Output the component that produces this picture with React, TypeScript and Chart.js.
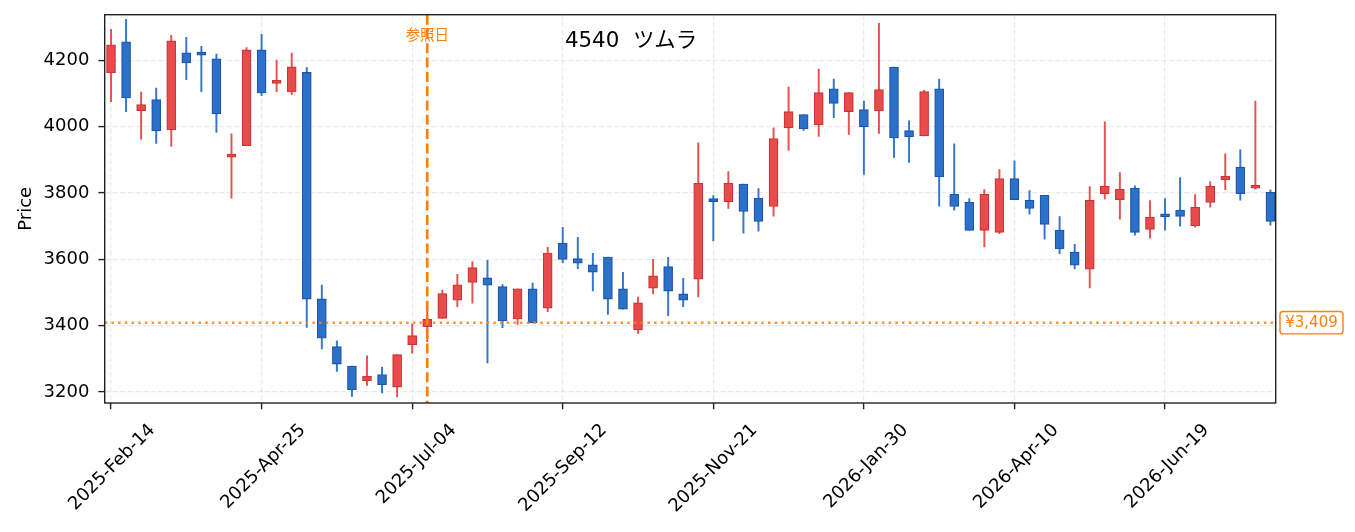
import { useEffect, useRef } from "react";
import { Chart, registerables } from "chart.js";

Chart.register(...registerables);

// weekly candles, week 0 = 2025-02-14
const tickWeeks = [0, 10, 20, 30, 40, 50, 60, 70];
const tickLabels = ["2025-Feb-14", "2025-Apr-25", "2025-Jul-04", "2025-Sep-12", "2025-Nov-21", "2026-Jan-30", "2026-Apr-10", "2026-Jun-19"];
const priceTicks = [3200, 3400, 3600, 3800, 4000, 4200];

const openPrices = [
  4162, 4255, 4048, 4081, 3990, 4222, 4219, 4204, 3908, 3942,
  4231, 4130, 4104, 4163, 3481, 3337, 3278, 3234, 3253, 3215,
  3342, 3397, 3422, 3477, 3530, 3544, 3518, 3420, 3511, 3453,
  3649, 3602, 3583, 3607, 3511, 3387, 3513, 3578, 3496, 3540,
  3778, 3773, 3827, 3784, 3759, 3996, 4036, 4005, 4114, 4045,
  4051, 4047, 4179, 3988, 3972, 4114, 3796, 3772, 3687, 3681,
  3843, 3778, 3793, 3688, 3622, 3570, 3798, 3780, 3814, 3690,
  3732, 3748, 3701, 3771, 3840, 3878, 3814, 3802,
];
const highPrices = [
  4293, 4323, 4104, 4116, 4275, 4269, 4242, 4218, 3978, 4238,
  4278, 4200, 4221, 4178, 3522, 3354, 3278, 3309, 3275, 3313,
  3405, 3452, 3507, 3555, 3593, 3597, 3524, 3511, 3528, 3636,
  3696, 3666, 3618, 3607, 3561, 3486, 3600, 3606, 3543, 3951,
  3792, 3864, 3827, 3813, 3996, 4119, 4036, 4173, 4143, 4102,
  4077, 4311, 4179, 4017, 4109, 4143, 3948, 3783, 3810, 3870,
  3897, 3807, 3793, 3729, 3645, 3819, 4014, 3861, 3821, 3777,
  3783, 3846, 3795, 3834, 3918, 3930, 4077, 3809,
];
const lowPrices = [
  4075, 4045, 3961, 3949, 3940, 4141, 4105, 3982, 3784, 3942,
  4093, 4105, 4096, 3395, 3330, 3262, 3187, 3220, 3197, 3185,
  3317, 3352, 3422, 3457, 3468, 3288, 3394, 3404, 3408, 3442,
  3590, 3572, 3505, 3434, 3450, 3377, 3496, 3430, 3457, 3487,
  3655, 3753, 3679, 3685, 3730, 3928, 3988, 3970, 4027, 3976,
  3856, 3979, 3907, 3892, 3972, 3760, 3748, 3687, 3637, 3677,
  3780, 3736, 3661, 3617, 3571, 3514, 3781, 3721, 3673, 3664,
  3688, 3700, 3697, 3757, 3810, 3778, 3811, 3703,
];
const closePrices = [
  4246, 4086, 4066, 3987, 4258, 4192, 4215, 4038, 3912, 4231,
  4101, 4134, 4180, 3480, 3362, 3284, 3207, 3247, 3222, 3313,
  3370, 3419, 3497, 3523, 3575, 3522, 3414, 3511, 3408, 3619,
  3600, 3588, 3561, 3480, 3450, 3469, 3550, 3504, 3477, 3829,
  3774, 3829, 3744, 3714, 3964, 4045, 3993, 4102, 4070, 4102,
  3999, 4111, 3966, 3969, 4105, 3849, 3759, 3687, 3796, 3843,
  3780, 3753, 3705, 3631, 3582, 3778, 3820, 3811, 3681, 3727,
  3728, 3729, 3757, 3820, 3850, 3798, 3818, 3714,
];

const refWeek = 21;
const refPrice = 3409;
const refDateLabel = "参照日";
const refPriceLabel = "¥3,409";
const chartTitle = "4540  ツムラ";

const ORANGE = "#ff7f0e";
const FONT = '"DejaVu Sans", "Noto Sans CJK JP", sans-serif';

const overlayPlugin = {
  id: "overlay",
  afterDatasetsDraw(chart: any) {
    const { ctx, chartArea: a, scales } = chart;
    const x = scales.x.getPixelForValue(refWeek);
    const y = scales.y.getPixelForValue(refPrice);
    ctx.save();
    ctx.strokeStyle = "rgba(255,127,14,0.85)";
    ctx.lineWidth = 2.5;
    ctx.setLineDash([2.5, 4.2]);
    ctx.beginPath();
    ctx.moveTo(a.left, y);
    ctx.lineTo(a.right, y);
    ctx.stroke();

    ctx.strokeStyle = ORANGE;
    ctx.lineWidth = 2.7;
    ctx.setLineDash([10, 4.3]);
    ctx.beginPath();
    ctx.moveTo(x, a.top);
    ctx.lineTo(x, a.bottom);
    ctx.stroke();
    ctx.restore();
  },
  afterDraw(chart: any) {
    const { ctx, chartArea: a, scales } = chart;
    const x = scales.x.getPixelForValue(refWeek);
    const y = scales.y.getPixelForValue(refPrice);
    ctx.save();
    // frame
    ctx.strokeStyle = "#222";
    ctx.lineWidth = 1.4;
    ctx.setLineDash([]);
    ctx.strokeRect(a.left, a.top, a.right - a.left, a.bottom - a.top);

    // title
    ctx.fillStyle = "#000";
    ctx.font = `21.4px ${FONT}`;
    ctx.textAlign = "left";
    ctx.textBaseline = "alphabetic";
    ctx.fillText(chartTitle, a.left + 0.393 * (a.right - a.left), a.top + 32.6);

    // reference date label
    ctx.fillStyle = ORANGE;
    ctx.font = '14.4px "Noto Sans CJK JP", sans-serif';
    ctx.textAlign = "center";
    ctx.textBaseline = "middle";
    ctx.fillText(refDateLabel, x, a.top + 20.3);

    // reference price box
    ctx.font = `15px ${FONT}`;
    const w = ctx.measureText(refPriceLabel).width + 10.5;
    const h = 22.4;
    const bx = a.right + 4.3;
    ctx.beginPath();
    ctx.roundRect(bx, y - h / 2, w, h, 3);
    ctx.fillStyle = "#fff";
    ctx.fill();
    ctx.strokeStyle = ORANGE;
    ctx.lineWidth = 1.4;
    ctx.stroke();
    ctx.fillStyle = ORANGE;
    ctx.fillText(refPriceLabel, bx + w / 2, y + 0.5);
    ctx.restore();
  },
};

const CandleChart = () => {
  const chartRef = useRef<HTMLCanvasElement>(null);
  const chartInstance = useRef<Chart | null>(null);

  useEffect(() => {
    if (!chartRef.current) return;
    if (chartInstance.current) chartInstance.current.destroy();
    const ctx = chartRef.current.getContext("2d");
    if (!ctx) return;

    const up = closePrices.map((c, i) => c >= openPrices[i]);
    const bodyFill = up.map((u) => (u ? "#e84b4b" : "#2b70c9"));
    const bodyEdge = up.map((u) => (u ? "#cc3434" : "#1f55a8"));
    const wickColor = up.map((u) => (u ? "#e65252" : "#3377cc"));

    const gridColor = "rgba(0,0,0,0.08)";

    chartInstance.current = new Chart(ctx, {
      type: "bar",
      data: {
        datasets: [
          {
            label: "body",
            data: openPrices.map((o, i) => ({ x: i, y: [o, closePrices[i]] })) as any,
            backgroundColor: bodyFill,
            borderColor: bodyEdge,
            borderWidth: 1.2,
            borderSkipped: false,
            barThickness: 9,
            minBarLength: 3,
            grouped: false,
            order: 0,
          },
          {
            label: "wick",
            data: lowPrices.map((l, i) => ({ x: i, y: [l, highPrices[i]] })) as any,
            backgroundColor: wickColor,
            borderWidth: 0,
            barThickness: 1.3,
            grouped: false,
            order: 1,
          },
        ],
      },
      options: {
        animation: false,
        responsive: true,
        maintainAspectRatio: false,
        layout: { padding: { top: 14.7, right: 79.3, left: 0, bottom: 0 } },
        font: { family: FONT },
        plugins: { legend: { display: false }, tooltip: { enabled: false } },
        scales: {
          x: {
            type: "linear",
            min: -0.42,
            max: 77.35,
            bounds: "data",
            offset: false,
            afterBuildTicks: (s: any) => {
              s.ticks = tickWeeks.map((v) => ({ value: v }));
            },
            afterFit: (s: any) => {
              s.height = 129;
              s.paddingLeft = 0;
              s.paddingRight = 0;
            },
            ticks: {
              autoSkip: false,
              minRotation: 45,
              maxRotation: 45,
              labelOffset: 41.3,
              padding: 10.3,
              color: "#000",
              font: { family: FONT, size: 18 },
              callback: (_v: any, i: number) => tickLabels[i],
            },
            grid: {
              offset: false,
              color: gridColor,
              lineWidth: 1.2,
              tickColor: "#222",
              tickWidth: 1.4,
              tickLength: 6.3,
              tickBorderDash: [],
            },
            border: { display: false, dash: [5.3, 2.3] },
          },
          y: {
            type: "linear",
            min: 3167,
            max: 4337,
            bounds: "data",
            afterBuildTicks: (s: any) => {
              s.ticks = priceTicks.map((v) => ({ value: v }));
            },
            afterFit: (s: any) => {
              s.width = 104.7;
              s.paddingTop = 0;
              s.paddingBottom = 0;
            },
            title: {
              display: true,
              text: "Price",
              color: "#000",
              font: { family: FONT, size: 18 },
              padding: { top: 16, bottom: 0 },
            },
            ticks: {
              padding: 9,
              color: "#000",
              font: { family: FONT, size: 18 },
              callback: (v: any) => String(v),
            },
            grid: {
              color: gridColor,
              lineWidth: 1.2,
              tickColor: "#222",
              tickWidth: 1.4,
              tickLength: 6.3,
              tickBorderDash: [],
            },
            border: { display: false, dash: [5.3, 2.3] },
          },
        },
      } as any,
      plugins: [overlayPlugin],
    });

    return () => {
      if (chartInstance.current) {
        chartInstance.current.destroy();
        chartInstance.current = null;
      }
    };
  }, []);

  return <canvas ref={chartRef}></canvas>;
};

export default function App() {
  return (
    <div style={{ position: "absolute", left: 0, top: 0, width: 1355, height: 532, background: "#fff" }}>
      <CandleChart />
    </div>
  );
}
